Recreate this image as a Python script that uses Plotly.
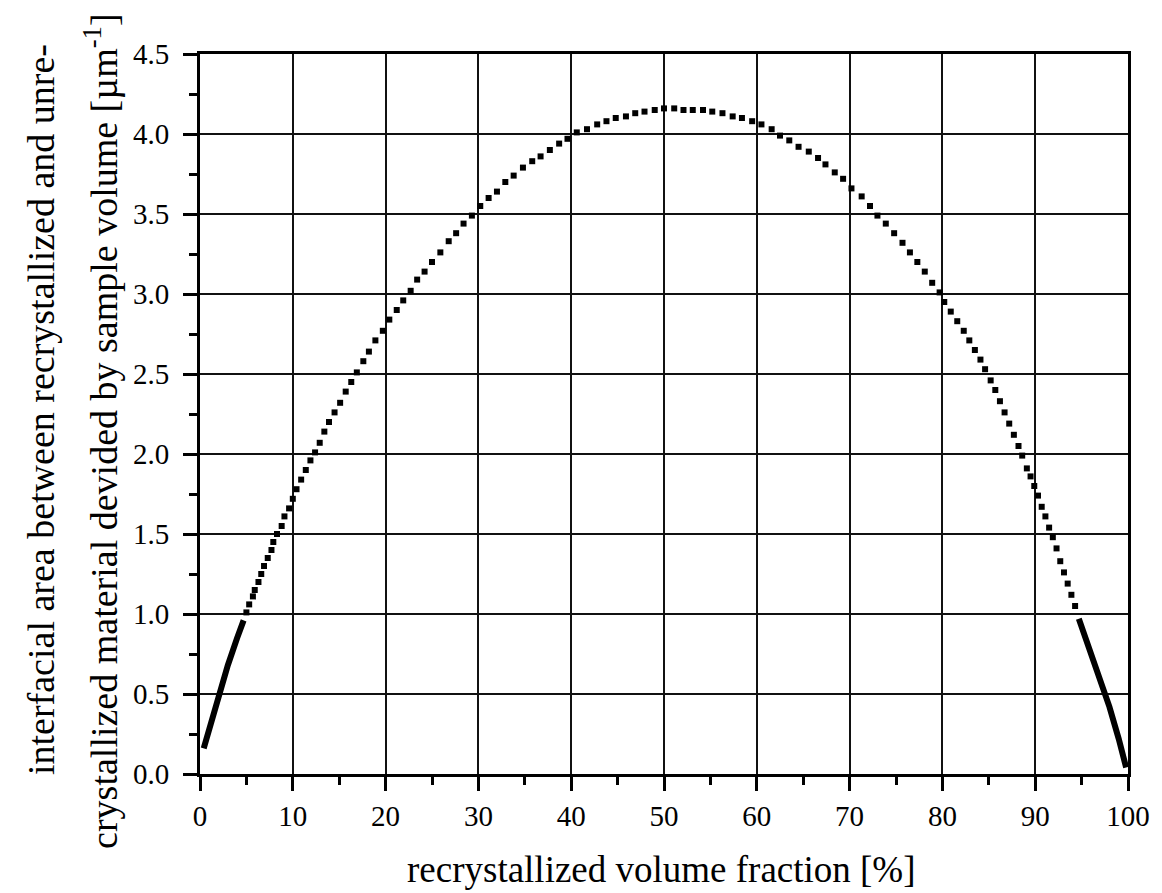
import plotly.graph_objects as go

# ---- data ----
# dense (continuous-looking) start of the curve
x_left_dense = [0.4, 1.2, 2.0, 3.0, 4.0, 4.7]
y_left_dense = [0.16, 0.33, 0.50, 0.68, 0.85, 0.96]

# individual square markers
x_markers = [
    5.0, 5.3, 5.7, 5.9, 6.3, 6.6, 6.9, 7.3, 7.7, 7.9, 8.3, 8.8, 9.1, 9.6, 10.0,
    10.4, 10.9, 11.4, 11.9, 12.4, 12.9, 13.4, 13.9, 14.5, 15.1, 15.7, 16.3, 16.9,
    17.6, 18.2, 18.9, 19.7, 20.4, 21.2, 21.9, 22.7, 23.4, 24.2, 25.0, 25.9, 26.8,
    27.6, 28.4, 29.3, 30.2, 31.1, 32.0, 32.9, 33.8, 34.8, 35.8, 36.7, 37.7, 38.7,
    39.6, 40.6, 41.7, 42.8, 43.8, 44.8, 45.9, 46.9, 47.9, 49.0, 50.0, 51.1, 52.1,
    53.1, 54.2, 55.2, 56.3, 57.4, 58.4, 59.5, 60.5, 61.6, 62.5, 63.5, 64.5, 65.6,
    66.6, 67.4, 68.4, 69.3, 70.2, 71.3, 72.2, 73.0, 73.9, 74.8, 75.7, 76.5, 77.3,
    78.1, 78.9, 79.7, 80.2, 80.9, 81.6, 82.3, 82.9, 83.5, 84.1, 84.6, 85.2, 85.7,
    86.2, 86.7, 87.2, 87.7, 88.2, 88.6, 89.1, 89.5, 89.9, 90.3, 90.7, 91.1, 91.5,
    91.9, 92.3, 92.7, 93.1, 93.5, 93.9, 94.3,
]
y_markers = [
    1.01, 1.06, 1.11, 1.15, 1.20, 1.25, 1.30, 1.35, 1.40, 1.45, 1.50, 1.55, 1.61, 1.66, 1.72,
    1.78, 1.84, 1.90, 1.96, 2.01, 2.07, 2.14, 2.20, 2.26, 2.32, 2.39, 2.45, 2.51,
    2.58, 2.64, 2.71, 2.77, 2.84, 2.90, 2.96, 3.02, 3.09, 3.14, 3.20, 3.26, 3.33,
    3.38, 3.44, 3.49, 3.55, 3.60, 3.64, 3.70, 3.74, 3.79, 3.83, 3.86, 3.90, 3.94,
    3.97, 4.01, 4.03, 4.06, 4.08, 4.10, 4.11, 4.13, 4.14, 4.15, 4.16, 4.16, 4.15,
    4.15, 4.15, 4.14, 4.13, 4.11, 4.10, 4.08, 4.06, 4.03, 3.99, 3.96, 3.92, 3.89,
    3.85, 3.81, 3.76, 3.72, 3.66, 3.61, 3.55, 3.49, 3.44, 3.38, 3.32, 3.26, 3.20,
    3.14, 3.07, 3.01, 2.95, 2.89, 2.83, 2.77, 2.71, 2.65, 2.59, 2.53, 2.46, 2.40,
    2.33, 2.26, 2.19, 2.12, 2.05, 1.99, 1.91, 1.86, 1.80, 1.74, 1.67, 1.61, 1.54,
    1.48, 1.41, 1.33, 1.26, 1.19, 1.12, 1.05,
]

# dense end of the curve
x_right_dense = [94.7, 96.0, 97.0, 98.0, 99.0, 99.8]
y_right_dense = [0.97, 0.76, 0.60, 0.42, 0.22, 0.04]

x_tickvals = [0, 10, 20, 30, 40, 50, 60, 70, 80, 90, 100]
x_ticktext = ["0", "10", "20", "30", "40", "50", "60", "70", "80", "90", "100"]
y_tickvals = [0.0, 0.5, 1.0, 1.5, 2.0, 2.5, 3.0, 3.5, 4.0, 4.5]
y_ticktext = ["0.0", "0.5", "1.0", "1.5", "2.0", "2.5", "3.0", "3.5", "4.0", "4.5"]

x_title = "recrystallized volume fraction [%]"
y_title_1 = "interfacial area between recrystallized and unre-"
y_title_2 = "crystallized material devided by sample volume [µm<sup>-1</sup>]"

FONT = "Liberation Serif, Times New Roman, serif"

fig = go.Figure()
fig.add_trace(go.Scatter(x=x_left_dense, y=y_left_dense, mode="lines",
                         line=dict(color="black", width=6), showlegend=False))
fig.add_trace(go.Scatter(x=x_markers, y=y_markers, mode="markers",
                         marker=dict(symbol="square", size=6, color="black",
                                     line=dict(width=0)),
                         showlegend=False))
fig.add_trace(go.Scatter(x=x_right_dense, y=y_right_dense, mode="lines",
                         line=dict(color="black", width=6), showlegend=False))

axis_common = dict(
    showline=True, linecolor="black", linewidth=3, mirror=True,
    ticks="outside", ticklen=14, tickwidth=3, tickcolor="black",
    showgrid=True, gridcolor="#111111", gridwidth=1.6,
    zeroline=False,
    tickfont=dict(family=FONT, size=29, color="black"),
)

fig.update_xaxes(
    range=[0, 100], tickmode="array", tickvals=x_tickvals, ticktext=x_ticktext,
    minor=dict(dtick=5, tick0=0, ticks="outside", ticklen=8, tickwidth=3,
               tickcolor="black", showgrid=False),
    ticklabelstandoff=0,
    **axis_common,
)
fig.update_yaxes(
    range=[0, 4.5], tickmode="array", tickvals=y_tickvals, ticktext=y_ticktext,
    minor=dict(dtick=0.25, tick0=0, ticks="outside", ticklen=8, tickwidth=3,
               tickcolor="black", showgrid=False),
    ticklabelstandoff=8,
    **axis_common,
)

fig.update_layout(
    width=1162, height=893,
    margin=dict(l=200, r=29, t=54, b=119),
    paper_bgcolor="white", plot_bgcolor="white",
    font=dict(family=FONT, color="black"),
    annotations=[
        dict(text=x_title, xref="paper", yref="paper", x=0.497, y=-0.133,
             xanchor="center", yanchor="middle", showarrow=False,
             font=dict(family=FONT, size=37, color="black")),
        dict(text=y_title_1, xref="paper", yref="paper", x=-0.172, y=0.506,
             xanchor="center", yanchor="middle", showarrow=False, textangle=-90,
             font=dict(family=FONT, size=38, color="black")),
        dict(text=y_title_2, xref="paper", yref="paper", x=-0.106, y=0.476,
             xanchor="center", yanchor="middle", showarrow=False, textangle=-90,
             font=dict(family=FONT, size=38, color="black")),
    ],
)

fig.write_html("out.html")
